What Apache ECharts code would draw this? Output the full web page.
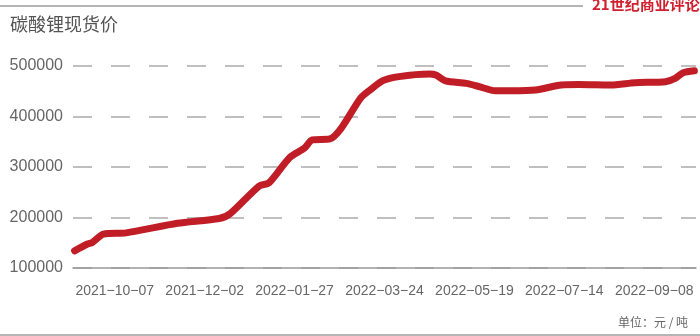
<!DOCTYPE html>
<html lang="zh">
<head>
    <meta charset="UTF-8">
    <title>碳酸锂现货价</title>
    <script src="https://cdn.jsdelivr.net/npm/echarts@6.0.0/dist/echarts.min.js"></script>
    <style>
        html, body {
            margin: 0;
            padding: 0;
            background: #fff;
        }

        #chart {
            width: 700px;
            height: 336px;
        }
    </style>
</head>
<body>
<div id="chart"></div>
<script>
    // 数据（从原图读取，单位：元/吨）
    const dates = [
        '2021-09-12', '2021-09-20', '2021-09-23', '2021-09-30', '2021-10-14',
        '2021-11-15', '2021-12-11', '2021-12-18', '2022-01-05', '2022-01-11',
        '2022-01-24', '2022-02-02', '2022-02-07', '2022-02-18', '2022-02-25',
        '2022-03-09', '2022-03-15', '2022-03-23', '2022-04-02', '2022-04-21',
        '2022-04-25', '2022-05-01', '2022-05-14', '2022-05-22', '2022-06-01',
        '2022-06-11', '2022-06-26', '2022-07-12', '2022-07-23', '2022-08-12',
        '2022-08-27', '2022-09-15', '2022-09-21', '2022-09-26', '2022-10-03'
    ];
    const prices = [
        134000, 147500, 150500, 167000, 169500,
        188500, 198000, 208000, 262500, 268500,
        319000, 337000, 353500, 355500, 376500,
        436000, 452500, 471000, 479000, 484000,
        482000, 470500, 465500, 459000, 451000,
        451000, 452500, 462500, 463500, 462500,
        467000, 469000, 475500, 486500, 490500
    ];
    const tickDates = ['2021-10-07', '2021-12-02', '2022-01-27', '2022-03-24',
        '2022-05-19', '2022-07-14', '2022-09-08'];
    const axisStart = '2021-09-11';
    const axisEnd = '2022-10-04';

    // 以天为单位的横坐标（相对 axisStart）
    const DAY = 24 * 3600 * 1000;
    function toDay(s) {
        const p = s.split('-');
        const q = axisStart.split('-');
        return Math.round((Date.UTC(+p[0], +p[1] - 1, +p[2]) - Date.UTC(+q[0], +q[1] - 1, +q[2])) / DAY);
    }

    const tickDays = tickDates.map(toDay);

    const chart = echarts.init(document.getElementById('chart'));
    chart.setOption({
        animation: false,
        grid: {
            left: 73,
            right: 4,
            top: 66,
            bottom: 68
        },
        graphic: [
            {
                type: 'line',
                shape: {x1: 0, y1: 6, x2: 583, y2: 6},
                style: {stroke: '#b5b5b5', lineWidth: 2}
            },
            {
                type: 'line',
                shape: {x1: 0, y1: 335, x2: 700, y2: 335},
                style: {stroke: '#b5b5b5', lineWidth: 2}
            },
            {
                type: 'text',
                left: 592,
                top: -3,
                style: {
                    text: '21世纪商业评论',
                    fill: '#d01f2d',
                    font: 'bold 15px "Noto Sans CJK SC"'
                }
            },
            {
                type: 'text',
                left: 10,
                top: 15,
                style: {
                    text: '碳酸锂现货价',
                    fill: '#555',
                    font: '18px "Noto Sans CJK SC"'
                }
            },
            {
                type: 'text',
                left: 618,
                top: 316,
                style: {
                    text: '单位：元 / 吨',
                    fill: '#666',
                    font: '12px "Noto Sans CJK SC"'
                }
            }
        ],
        xAxis: {
            type: 'value',
            min: 0,
            max: toDay(axisEnd),
            axisLine: {show: true, lineStyle: {color: '#999', width: 1.5}},
            axisTick: {show: false},
            splitLine: {show: false},
            axisLabel: {
                customValues: tickDays,
                margin: 16,
                color: '#666',
                fontSize: 14,
                fontFamily: 'Liberation Sans',
                formatter: function (v) {
                    const i = tickDays.indexOf(v);
                    return i >= 0 ? tickDates[i].replace(/-/g, '\u2212') : '';
                }
            }
        },
        yAxis: {
            type: 'value',
            min: 100000,
            max: 500000,
            interval: 100000,
            axisLine: {show: false},
            axisTick: {show: false},
            axisLabel: {
                margin: 10,
                color: '#666',
                fontSize: 16,
                fontFamily: 'Liberation Sans',
                formatter: function (v) {
                    return String(v);
                }
            },
            splitLine: {
                lineStyle: {color: '#aaa', width: 1.5, type: [19, 19]}
            }
        },
        series: [{
            type: 'line',
            data: dates.map((d, i) => [toDay(d), prices[i]]),
            showSymbol: false,
            smooth: 0.25,
            lineStyle: {
                color: '#c01d27',
                width: 7,
                cap: 'round',
                join: 'round'
            }
        }]
    });
</script>
</body>
</html>
